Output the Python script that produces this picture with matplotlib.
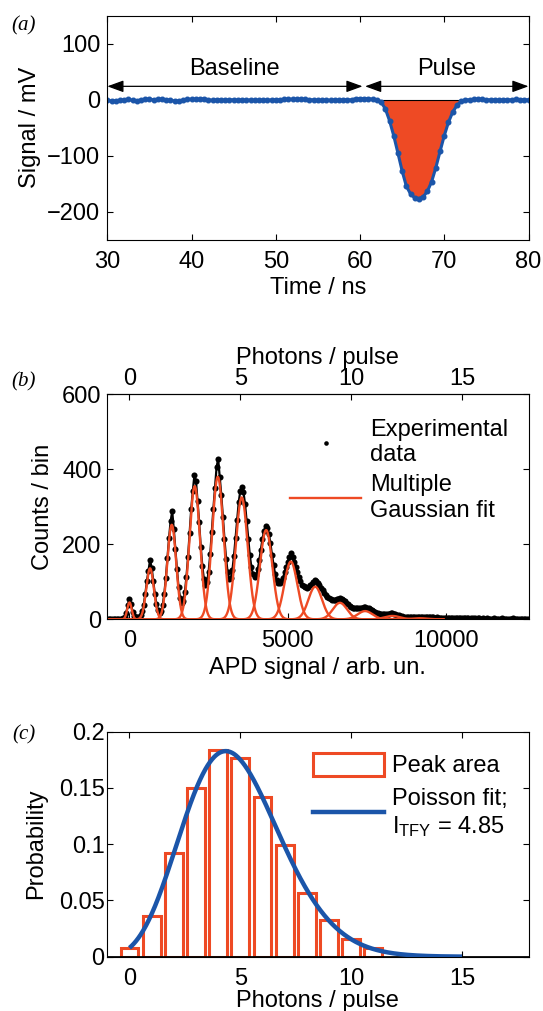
import math
import numpy as np
import matplotlib
matplotlib.use('Agg')
import matplotlib.pyplot as plt
from matplotlib.patches import Patch
from matplotlib.lines import Line2D

# ---- (a) oscilloscope trace, sampled every 0.5 ns from 30 to 80 ns ----
t_start, t_step = 30.0, 0.5
signal_mv = [-1, -2, -2, -1, 0, 1, -1, -2, 0, 1,
             1, 0, 1, 1, 0, -1, -2, -2, -1, 1,
             1, 1, 1, 2, 0, -1, 0, 0, -1, 0,
             0, -1, 0, -1, 0, -1, -1, 0, -1, 0,
             0, 0, 1, 1, 1, 1, 1, 1, 0, 0,
             -1, -1, 0, -1, 0, -1, 0, 0, 0, 2,
             2, 2, 2, 1, 0, -4, -16, -37, -64, -95,
             -127, -154, -168, -175, -176, -173, -163, -146, -121, -92,
             -64, -40, -22, -10, -3, 0, 0, 1, 1, 1,
             0, 0, 0, -1, 0, 0, 0, 1, 0, 0, 0]
baseline_window = (30.0, 60.3)
pulse_window = (60.6, 80.0)
integration_window = (62.3, 72.5)

# ---- (b) pulse-height spectrum, bins of 50 arb. un. starting at -700 ----
apd_start, apd_step = -700, 50
counts = [1, 2, 1, 2, 1, 2, 1, 2, 2, 1, 3,
          6, 18, 38, 54, 40, 19, 9, 6, 5, 7, 11, 21, 39, 67, 101, 130, 158, 138, 102,
          68, 40, 24, 18, 22, 38, 68, 111, 164, 217, 262, 288, 240, 187, 133, 85,
          57, 44, 49, 72, 114, 167, 231, 294, 342, 384, 370, 316, 259, 194, 143,
          107, 91, 99, 127, 173, 234, 295, 350, 405, 428, 380, 331, 272, 214, 162,
          125, 107, 109, 131, 169, 217, 266, 312, 343, 352, 339, 307, 261, 213, 171,
          139, 120, 113, 117, 133, 158, 186, 214, 236, 249, 244, 228, 203, 172, 145,
          120, 104, 98, 97, 102, 111, 125, 139, 154, 165, 177, 165, 154, 140, 126,
          112, 101, 92, 88, 85, 84, 87, 91, 95, 100, 104, 101, 97, 91, 84,
          78, 71, 65, 60, 57, 54, 52, 52, 52, 54, 55, 57, 55, 52, 49,
          44, 41, 36, 33, 31, 30, 29, 29, 29, 30, 31, 32, 33, 31, 29,
          27, 25, 22, 20, 17, 16, 15, 14, 14, 13, 14, 15, 15, 16, 16,
          15, 14, 12, 11, 10, 8, 7, 7, 7, 6, 6, 6, 6, 6, 7,
          7, 7, 7, 7, 6, 6, 6, 5, 5,
          5, 5, 4, 5, 4, 4, 4, 4, 3, 4,
          4, 3, 4, 3, 3, 4, 3, 3, 3, 4, 3, 3, 3, 3, 2, 3, 3, 3, 2, 3,
          3, 2, 3, 2, 2, 3, 2, 2, 2, 3, 2, 2, 2, 2, 3, 2, 2, 2, 2, 2,
          2, 3, 2, 2, 2, 2, 2, 1, 2, 2, 2, 2]
# multiple Gaussian fit: one peak per photon number
peak_center = [0, 650, 1335, 2060, 2790, 3545, 4315, 5095, 5865, 6645, 7440, 8300, 9150]
peak_height = [45, 136, 252, 355, 380, 325, 238, 154, 87, 44, 22, 9, 3]
peak_sigma = [70, 120, 140, 165, 180, 188, 195, 205, 215, 225, 235, 245, 255]
fit_range = (-700, 9900)
apd_per_photon = 700.0

# ---- (c) photon number distribution ----
photons = [0, 1, 2, 3, 4, 5, 6, 7, 8, 9, 10, 11]
peak_area = [0.0075, 0.036, 0.0925, 0.150, 0.1835, 0.1767, 0.1418, 0.0991,
             0.0567, 0.0328, 0.0157, 0.0074]
poisson_mean = 4.85
poisson_range = (0, 15)

orange = '#ee4a24'
blue = '#1b55a9'

plt.rcParams['font.family'] = 'Liberation Sans'
plt.rcParams['font.size'] = 17
plt.rcParams['mathtext.fontset'] = 'custom'
plt.rcParams['mathtext.rm'] = 'Liberation Sans'
plt.rcParams['axes.linewidth'] = 0.8

fig = plt.figure(figsize=(5.43, 10.11), dpi=100)
ax1 = fig.add_axes([0.1976, 0.7626, 0.7757, 0.2219])
ax2 = fig.add_axes([0.1976, 0.3874, 0.7757, 0.2226])
ax3 = fig.add_axes([0.1976, 0.0537, 0.7757, 0.2226])

# ---------------- (a)
t = t_start + t_step * np.arange(len(signal_mv))
sig = np.array(signal_mv, dtype=float)
inside = (t >= integration_window[0]) & (t <= integration_window[1])
ax1.fill_between(t, sig, 0, where=inside, color=orange, lw=0, interpolate=True)
ax1.plot(integration_window, [0, 0], color='k', lw=0.8)
ax1.plot(t, sig, '-o', color=blue, lw=2.2, ms=3.3, mfc=blue, mec=blue)

arrow_y = 24
for (x0, x1), name in [(baseline_window, 'Baseline'), (pulse_window, 'Pulse')]:
    ax1.annotate('', xy=(x1, arrow_y), xytext=(x0, arrow_y),
                 arrowprops=dict(arrowstyle='<|-|>,head_length=0.55,head_width=0.2',
                                 color='k', lw=0.9, shrinkA=0, shrinkB=0,
                                 mutation_scale=18))
    ax1.text((x0 + x1) / 2, 45, name, ha='center', va='baseline')

ax1.set_xlim(30, 80)
ax1.set_ylim(-250, 150)
ax1.set_xticks([30, 40, 50, 60, 70, 80])
ax1.set_yticks([-200, -100, 0, 100])
ax1.set_yticklabels(['\u2212200', '\u2212100', '0', '100'])
ax1.tick_params(direction='in', length=4, width=0.8, top=True, right=True)
ax1.tick_params(axis='x', pad=8)
ax1.tick_params(axis='y', pad=5)
ax1.set_xlabel('Time / ns', va='center')
ax1.xaxis.set_label_coords(0.5, -0.216)
ax1.set_ylabel('Signal / mV', va='center')
ax1.yaxis.set_label_coords(-0.183, 0.5)

# ---------------- (b)
apd = apd_start + apd_step * np.arange(len(counts))
ax2.plot(apd, counts, '-', color='k', lw=1.6)
ax2.plot(apd, counts, 'o', color='k', ms=4.4, mew=0, label='Experimental\ndata')
xf = np.linspace(fit_range[0], fit_range[1], 3000)
for i, (c, h, s) in enumerate(zip(peak_center, peak_height, peak_sigma)):
    ax2.plot(xf, h * np.exp(-(xf - c) ** 2 / (2 * s ** 2)), color=orange, lw=1.7,
             label='Multiple\nGaussian fit' if i == 0 else None)

ax2.set_xlim(-apd_per_photon, 18 * apd_per_photon)
ax2.set_ylim(0, 600)
ax2.set_xticks([0, 5000, 10000])
ax2.set_yticks([0, 200, 400, 600])
ax2.tick_params(direction='in', length=4, width=0.8, top=False, right=True)
ax2.tick_params(axis='x', pad=8)
ax2.tick_params(axis='y', pad=4)
ax2.set_xlabel('APD signal / arb. un.', va='center')
ax2.xaxis.set_label_coords(0.5, -0.216)
ax2.set_ylabel('Counts / bin', va='center')
ax2.yaxis.set_label_coords(-0.152, 0.5)

top = ax2.secondary_xaxis('top', functions=(lambda x: x / apd_per_photon,
                                            lambda p: p * apd_per_photon))
top.set_xticks([0, 5, 10, 15])
top.tick_params(direction='in', length=4, width=0.8, pad=3)
top.set_xlabel('Photons / pulse', labelpad=3)

ax2.legend(loc='upper left', bbox_to_anchor=(0.434, 0.892), frameon=False,
           borderpad=0, borderaxespad=0, handlelength=3.0, handletextpad=0.4,
           labelspacing=0.35, markerscale=0.75)

# ---------------- (c)
ax3.bar(photons, peak_area, width=0.8, facecolor='white', edgecolor=orange, lw=2.2, zorder=2)
ax3.axhline(0, color='k', lw=2, zorder=3)
xp = np.linspace(poisson_range[0], poisson_range[1], 600)
yp = [poisson_mean ** v * math.exp(-poisson_mean) / math.gamma(v + 1) for v in xp]
ax3.plot(xp, yp, color=blue, lw=3.2, zorder=4, solid_capstyle='butt')

ax3.set_xlim(-1, 18)
ax3.set_ylim(0, 0.2)
ax3.set_xticks([0, 5, 10, 15])
ax3.set_yticks([0, 0.05, 0.1, 0.15, 0.2])
ax3.set_yticklabels(['0', '0.05', '0.1', '0.15', '0.2'])
ax3.tick_params(direction='in', length=4, width=0.8, top=True, right=True)
ax3.tick_params(axis='x', pad=8)
ax3.tick_params(axis='y', pad=2)
ax3.set_xlabel('Photons / pulse', va='center')
ax3.xaxis.set_label_coords(0.5, -0.199)
ax3.set_ylabel('Probability', va='center')
ax3.yaxis.set_label_coords(-0.168, 0.5)

handles = [Patch(facecolor='white', edgecolor=orange, lw=2.2),
           Line2D([], [], color=blue, lw=3.2)]
labels = ['Peak area', 'Poisson fit;\n$\\mathregular{I_{TFY}}$ = 4.85']
ax3.legend(handles, labels, loc='upper left', bbox_to_anchor=(0.488, 0.905),
           frameon=False, borderpad=0, borderaxespad=0, handlelength=3.0,
           handleheight=1.1, handletextpad=0.35, labelspacing=0.45)

for lab, y in [('(a)', 0.974), ('(b)', 0.6225), ('(c)', 0.273)]:
    fig.text(0.0435, y, lab, family='Liberation Serif', style='italic',
             fontsize=15, ha='center', va='center')

fig.savefig('out.png', dpi=100)
